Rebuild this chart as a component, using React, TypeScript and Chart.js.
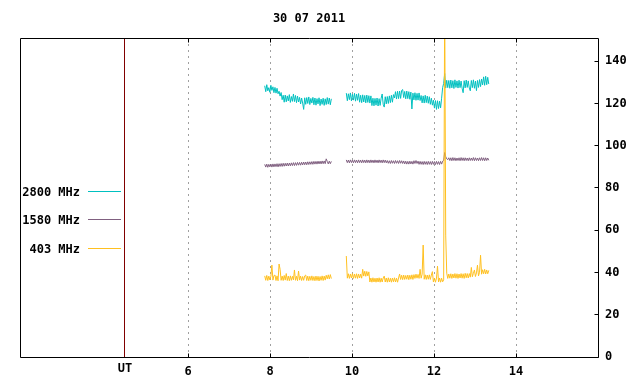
import React, { useEffect, useRef } from 'react';
import { Chart, registerables } from 'chart.js';

Chart.register(...registerables);

const titleText = '30 07 2011';
const seriesLabels = ['2800 MHz', '1580 MHz', '403 MHz'];
const seriesColors = ['#00c0c0', '#806080', '#ffc020'];
const xTicks = [6, 8, 10, 12, 14];
const yTicks = [0, 20, 40, 60, 80, 100, 120, 140];
const xMin = 1.9;
const xMax = 16;
const yMin = 0;
const yMax = 151;
const utHour = 4.46;
const utLabel = 'UT';

// sampling of the two observation segments (hours UT)
const seg1Start = 7.87;
const seg2Start = 9.86;
const stepH = 0.025;

// 2800 MHz
const s2800a = [
  128.4, 125.6, 128.9, 126, 127.5, 125.3, 128.6, 126.2, 127.9, 125.1,
  127.6, 124.9, 127.2, 124.6, 125.8, 123.5, 125.2, 121.8, 123.9, 120.6,
  124, 120.8, 123.6, 121.2, 124.2, 120.5, 123.3, 121, 124.5, 120.9,
  123.8, 120.4, 123.5, 120.7, 122.9, 119.8, 122.6, 120.2, 117.2, 122.7,
  119.6, 122.8, 120, 123.1, 119.5, 122.4, 120.2, 122.9, 119.4, 122.6,
  119.2, 122.3, 119.8, 122.7, 119, 122.1, 119.6, 122.5, 119.1, 122.2,
  119.5, 122.8, 119.7, 122.6, 119.4, 122.2,
];
const s2800b = [
  124.9, 121.3, 124.6, 121.8, 125, 121.2, 124.4, 121.6, 124.8, 121.1,
  124.5, 121.5, 124.7, 120.6, 123.9, 120.4, 124.1, 120.7, 123.8, 120.3,
  124, 120.5, 123.7, 120.2, 123.6, 119, 122.5, 118.9, 122.4, 119.2,
  122.6, 118.8, 122.3, 119.1, 122.5, 124.5, 119.6, 118.3, 123.2, 119.8,
  123.3, 120, 123.6, 120.4, 123.9, 120.6, 124.2, 122.6, 125.6, 122.1,
  125.8, 122.3, 125.9, 122.4, 126.2, 126.6, 122.8, 125.7, 122.2, 125.9,
  122.3, 125.6, 122, 125.4, 117.4, 124.9, 121.7, 125.1, 121.5, 124.8,
  121.6, 125, 121.4, 123.8, 120.3, 123.6, 120.2, 123.9, 120.4, 123.5,
  120.1, 123.2, 119.6, 122.5, 119.2, 121.6, 117.8, 121.4, 117.2, 121.3,
  117.6, 121.1, 117.9, 122.5, 127.5, 129.5, 134.2, 127.3, 131, 127.5,
  130.9, 127.2, 131.1, 127.4, 130.8, 127.1, 131.2, 127.6, 130.7, 127.3,
  131, 127.5, 130.6, 127.2, 125.1, 130.8, 127.4, 131.1, 127.6, 130.7,
  127.3, 126, 130.9, 127.5, 131.2, 127.2, 130.6, 126.1, 130.9, 127.6,
  131.3, 128, 131.6, 128.8, 132.6, 128.6, 132.9, 128.9, 132.4, 129.2,
];

// 1580 MHz
const s1580a = [
  91.2, 89.9, 91.3, 89.8, 91.2, 90, 91.3, 89.9, 91.4, 90,
  91.4, 90.1, 91.5, 90, 91.5, 90.2, 91.6, 90.2, 91.7, 90.3,
  91.7, 90.4, 91.8, 90.4, 91.8, 90.5, 91.9, 90.6, 92, 90.6,
  92, 90.7, 92.1, 90.8, 92.1, 90.8, 92.2, 90.9, 92.3, 91,
  92.3, 91, 92.4, 91.1, 92.4, 91.2, 92.5, 91.2, 92.6, 91.3,
  92.6, 91.3, 92.7, 91.4, 92.7, 91.4, 92.8, 91.5, 92.8, 91.5,
  93.8, 92.6, 91.4, 92.7, 91.5, 92.6,
];
const s1580b = [
  93.3, 92, 93.2, 91.9, 93.3, 92, 93.2, 91.9, 93.3, 92,
  93.2, 91.9, 93.3, 92, 93.2, 91.9, 93.3, 92, 93.2, 91.9,
  93.3, 92, 93.2, 91.9, 93.3, 92, 93.2, 91.9, 93.3, 92,
  93.2, 91.9, 93.3, 92, 93.2, 91.9, 93.3, 92, 93.2, 91.9,
  93, 91.7, 92.9, 91.6, 93, 91.7, 92.9, 91.6, 93, 91.7,
  92.9, 91.6, 93, 91.7, 92.9, 91.6, 92.8, 91.4, 92.7, 91.3,
  92.6, 91.3, 92.7, 91.4, 92.6, 91.3, 92.9, 91.6, 93, 91.6,
  92.7, 91.2, 92.6, 91.2, 92.5, 91.1, 92.6, 91.2, 92.5, 91.1,
  92.6, 91.2, 92.5, 91.1, 92.6, 91.2, 92.5, 91.1, 92.6, 91.2,
  92.5, 91.1, 92.6, 91.3, 92.7, 93, 96.8, 94.8, 93.8, 93.4,
  94.3, 93, 94.3, 92.9, 94.4, 93, 94.3, 92.9, 94.2, 93,
  94.3, 92.9, 94.4, 93, 94.3, 92.9, 94.3, 93, 94.2, 92.9,
  94.3, 93, 94.2, 93, 94.4, 92.9, 94.3, 93, 94.2, 92.9,
  94.3, 93, 94.4, 93, 94.3, 92.9, 94.3, 93, 94.2, 93.1,
];

// 403 MHz
const s403a = [
  38.4, 36.3, 38.6, 36.2, 38.3, 36.5, 38.2, 43.5, 36.4, 38.5,
  38.8, 36.2, 38.4, 36.1, 44, 41.5, 36.3, 38.3, 36.2, 38.6,
  36.4, 39.5, 36.2, 38.3, 36.1, 38.4, 36.3, 38.2, 36.5, 41.2,
  36.3, 38.2, 36.1, 40.7, 36.4, 38.3, 36.2, 38.1, 36.3, 38.4,
  38.8, 36.2, 38.3, 36.1, 38.2, 36.3, 38.4, 36.2, 38.1, 36.1,
  38.3, 36.2, 38.2, 36, 38.1, 36.3, 38.4, 36.2, 38.3, 36.4,
  38.7, 37, 38.9, 36.9, 39, 37.1,
];
const s403b = [
  47.8, 37.3, 39.4, 37.2, 39.3, 37.4, 39.5, 37.2, 39.3, 37.3,
  39.4, 37.2, 39.3, 37.4, 39.2, 37.3, 41.5, 38.3, 40.6, 38.2,
  40.5, 38.4, 40.3, 35.5, 37.4, 35.4, 37.5, 35.5, 37.3, 35.4,
  37.4, 35.5, 37.5, 35.4, 37.3, 35.5, 37.4, 38.3, 35.5, 37.4,
  35.4, 37.5, 35.5, 37.3, 35.4, 37.4, 35.6, 37.5, 35.5, 37.3,
  35.4, 37.4, 39.3, 36.7, 38.7, 36.6, 38.8, 36.7, 38.6, 36.8,
  38.8, 36.6, 38.7, 36.8, 38.9, 36.7, 39, 37.2, 39.2, 37.3,
  39.1, 37.2, 41.5, 37.3, 39.2, 53, 36.8, 38.9, 36.7, 38.8,
  36.8, 38.9, 36.7, 38.8, 40.4, 35.5, 37.3, 35.4, 37.4, 43,
  35.5, 37.4, 35.4, 37.3, 35.6, 36.5, 170, 57.7, 39.7, 37.2,
  39.3, 37.3, 39.4, 37.2, 39.3, 37.4, 39.5, 37.3, 39.4, 37.2,
  39.3, 37.4, 39.5, 37.3, 39.4, 37.2, 39.6, 37.5, 39.5, 37.4,
  39.5, 37.8, 42.4, 38, 39.6, 41.2, 38.1, 39.8, 43.5, 38.4,
  40.1, 48.2, 39.2, 41.3, 39.4, 41.5, 39.3, 41.2, 39.4, 41,
];

function buildSeries(a: number[], b: number[]) {
  const pts: { x: number; y: number | null }[] = [];
  a.forEach((v, i) => pts.push({ x: seg1Start + i * stepH, y: v }));
  pts.push({ x: (seg1Start + (a.length - 1) * stepH + seg2Start) / 2, y: null });
  b.forEach((v, i) => pts.push({ x: seg2Start + i * stepH, y: v }));
  return pts;
}

const FONT_FAMILY = '"DejaVu Sans Mono", "Liberation Mono", monospace';
const FONT_SIZE = 12;
const FONT_CSS = `bold ${FONT_SIZE}px ${FONT_FAMILY}`;

const align = (p: number) => Math.round(p - 0.5) + 0.5;

const decorPlugin = {
  id: 'decor',
  afterDatasetsDraw(chart: any) {
    const { ctx, chartArea, scales } = chart;
    const { left, top, right, bottom } = chartArea;
    const xs = scales.x;
    const ys = scales.y;
    ctx.save();
    // UT marker line
    const ux = align(xs.getPixelForValue(utHour));
    ctx.strokeStyle = '#800000';
    ctx.lineWidth = 1;
    ctx.setLineDash([]);
    ctx.beginPath();
    ctx.moveTo(ux, top);
    ctx.lineTo(ux, bottom);
    ctx.stroke();

    // frame
    ctx.strokeStyle = '#000';
    ctx.beginPath();
    ctx.rect(align(left), align(top), align(right) - align(left), align(bottom) - align(top));
    ctx.stroke();

    // inward tick marks
    ctx.beginPath();
    xTicks.forEach((v) => {
      const px = align(xs.getPixelForValue(v));
      ctx.moveTo(px, align(bottom));
      ctx.lineTo(px, align(bottom) - 4);
      ctx.moveTo(px, align(top));
      ctx.lineTo(px, align(top) + 4);
    });
    yTicks.forEach((v) => {
      const py = align(ys.getPixelForValue(v));
      ctx.moveTo(align(right), py);
      ctx.lineTo(align(right) - 4, py);
    });
    ctx.stroke();

    // texts
    ctx.fillStyle = '#000';
    ctx.font = FONT_CSS;
    ctx.textBaseline = 'middle';
    ctx.textAlign = 'center';
    ctx.fillText(titleText, (left + right) / 2, 19);
    ctx.fillText(utLabel, xs.getPixelForValue(utHour), 368.5);

    // legend inside plot
    chart.data.datasets.forEach((ds: any, k: number) => {
      const ly = 191 + Math.floor(k * 28.5);
      ctx.fillStyle = '#000';
      ctx.textAlign = 'right';
      ctx.fillText(ds.label, 80, ly + 1.5);
      ctx.strokeStyle = ds.borderColor;
      ctx.lineWidth = 1;
      ctx.beginPath();
      ctx.moveTo(88, ly + 0.5);
      ctx.lineTo(121, ly + 0.5);
      ctx.stroke();
    });
    ctx.restore();
  },
};

export default function App() {
  const ref = useRef<HTMLCanvasElement | null>(null);
  useEffect(() => {
    if (!ref.current) return;
    const font = { family: FONT_FAMILY, size: FONT_SIZE, weight: 'bold' as const };
    const seriesData = [
      buildSeries(s2800a, s2800b),
      buildSeries(s1580a, s1580b),
      buildSeries(s403a, s403b),
    ];
    const chart = new Chart(ref.current, {
      type: 'line',
      data: {
        datasets: seriesLabels.map((label, k) => ({
          label,
          data: seriesData[k] as any,
          borderColor: seriesColors[k],
          backgroundColor: seriesColors[k],
          borderWidth: 1,
          pointRadius: 0,
          tension: 0,
          spanGaps: false,
          order: 2 - k,
        })),
      },
      options: {
        responsive: false,
        animation: false,
        devicePixelRatio: 1,
        layout: { padding: { left: 20, top: 38, right: 0, bottom: 0 } },
        plugins: {
          legend: { display: false },
          tooltip: { enabled: false },
          title: { display: false },
        },
        scales: {
          x: {
            type: 'linear',
            position: 'bottom',
            min: xMin,
            max: xMax,
            afterBuildTicks: (s: any) => {
              s.ticks = xTicks.map((v) => ({ value: v }));
            },
            afterFit: (s: any) => {
              s.height = 27;
            },
            grid: { display: true, drawOnChartArea: true, drawTicks: false, color: '#a0a0a0', lineWidth: 1 },
            border: { display: false, dash: [2, 4] },
            ticks: {
              font,
              color: '#000',
              padding: 8,
              maxRotation: 0,
              autoSkip: false,
              callback: (v: any) => String(v),
            },
          },
          y: {
            type: 'linear',
            position: 'right',
            min: yMin,
            max: yMax,
            afterBuildTicks: (s: any) => {
              s.ticks = yTicks.map((v) => ({ value: v }));
            },
            afterFit: (s: any) => {
              s.width = 42;
            },
            grid: { display: false, drawTicks: false },
            border: { display: false },
            ticks: {
              font,
              color: '#000',
              padding: 7,
              autoSkip: false,
              callback: (v: any) => String(v),
            },
          },
        },
      } as any,
      plugins: [decorPlugin],
    });
    return () => chart.destroy();
  }, []);
  return (
    <div style={{ position: 'absolute', left: 0, top: 0, width: 640, height: 384, background: '#fff' }}>
      <canvas ref={ref} width={640} height={384} />
    </div>
  );
}
